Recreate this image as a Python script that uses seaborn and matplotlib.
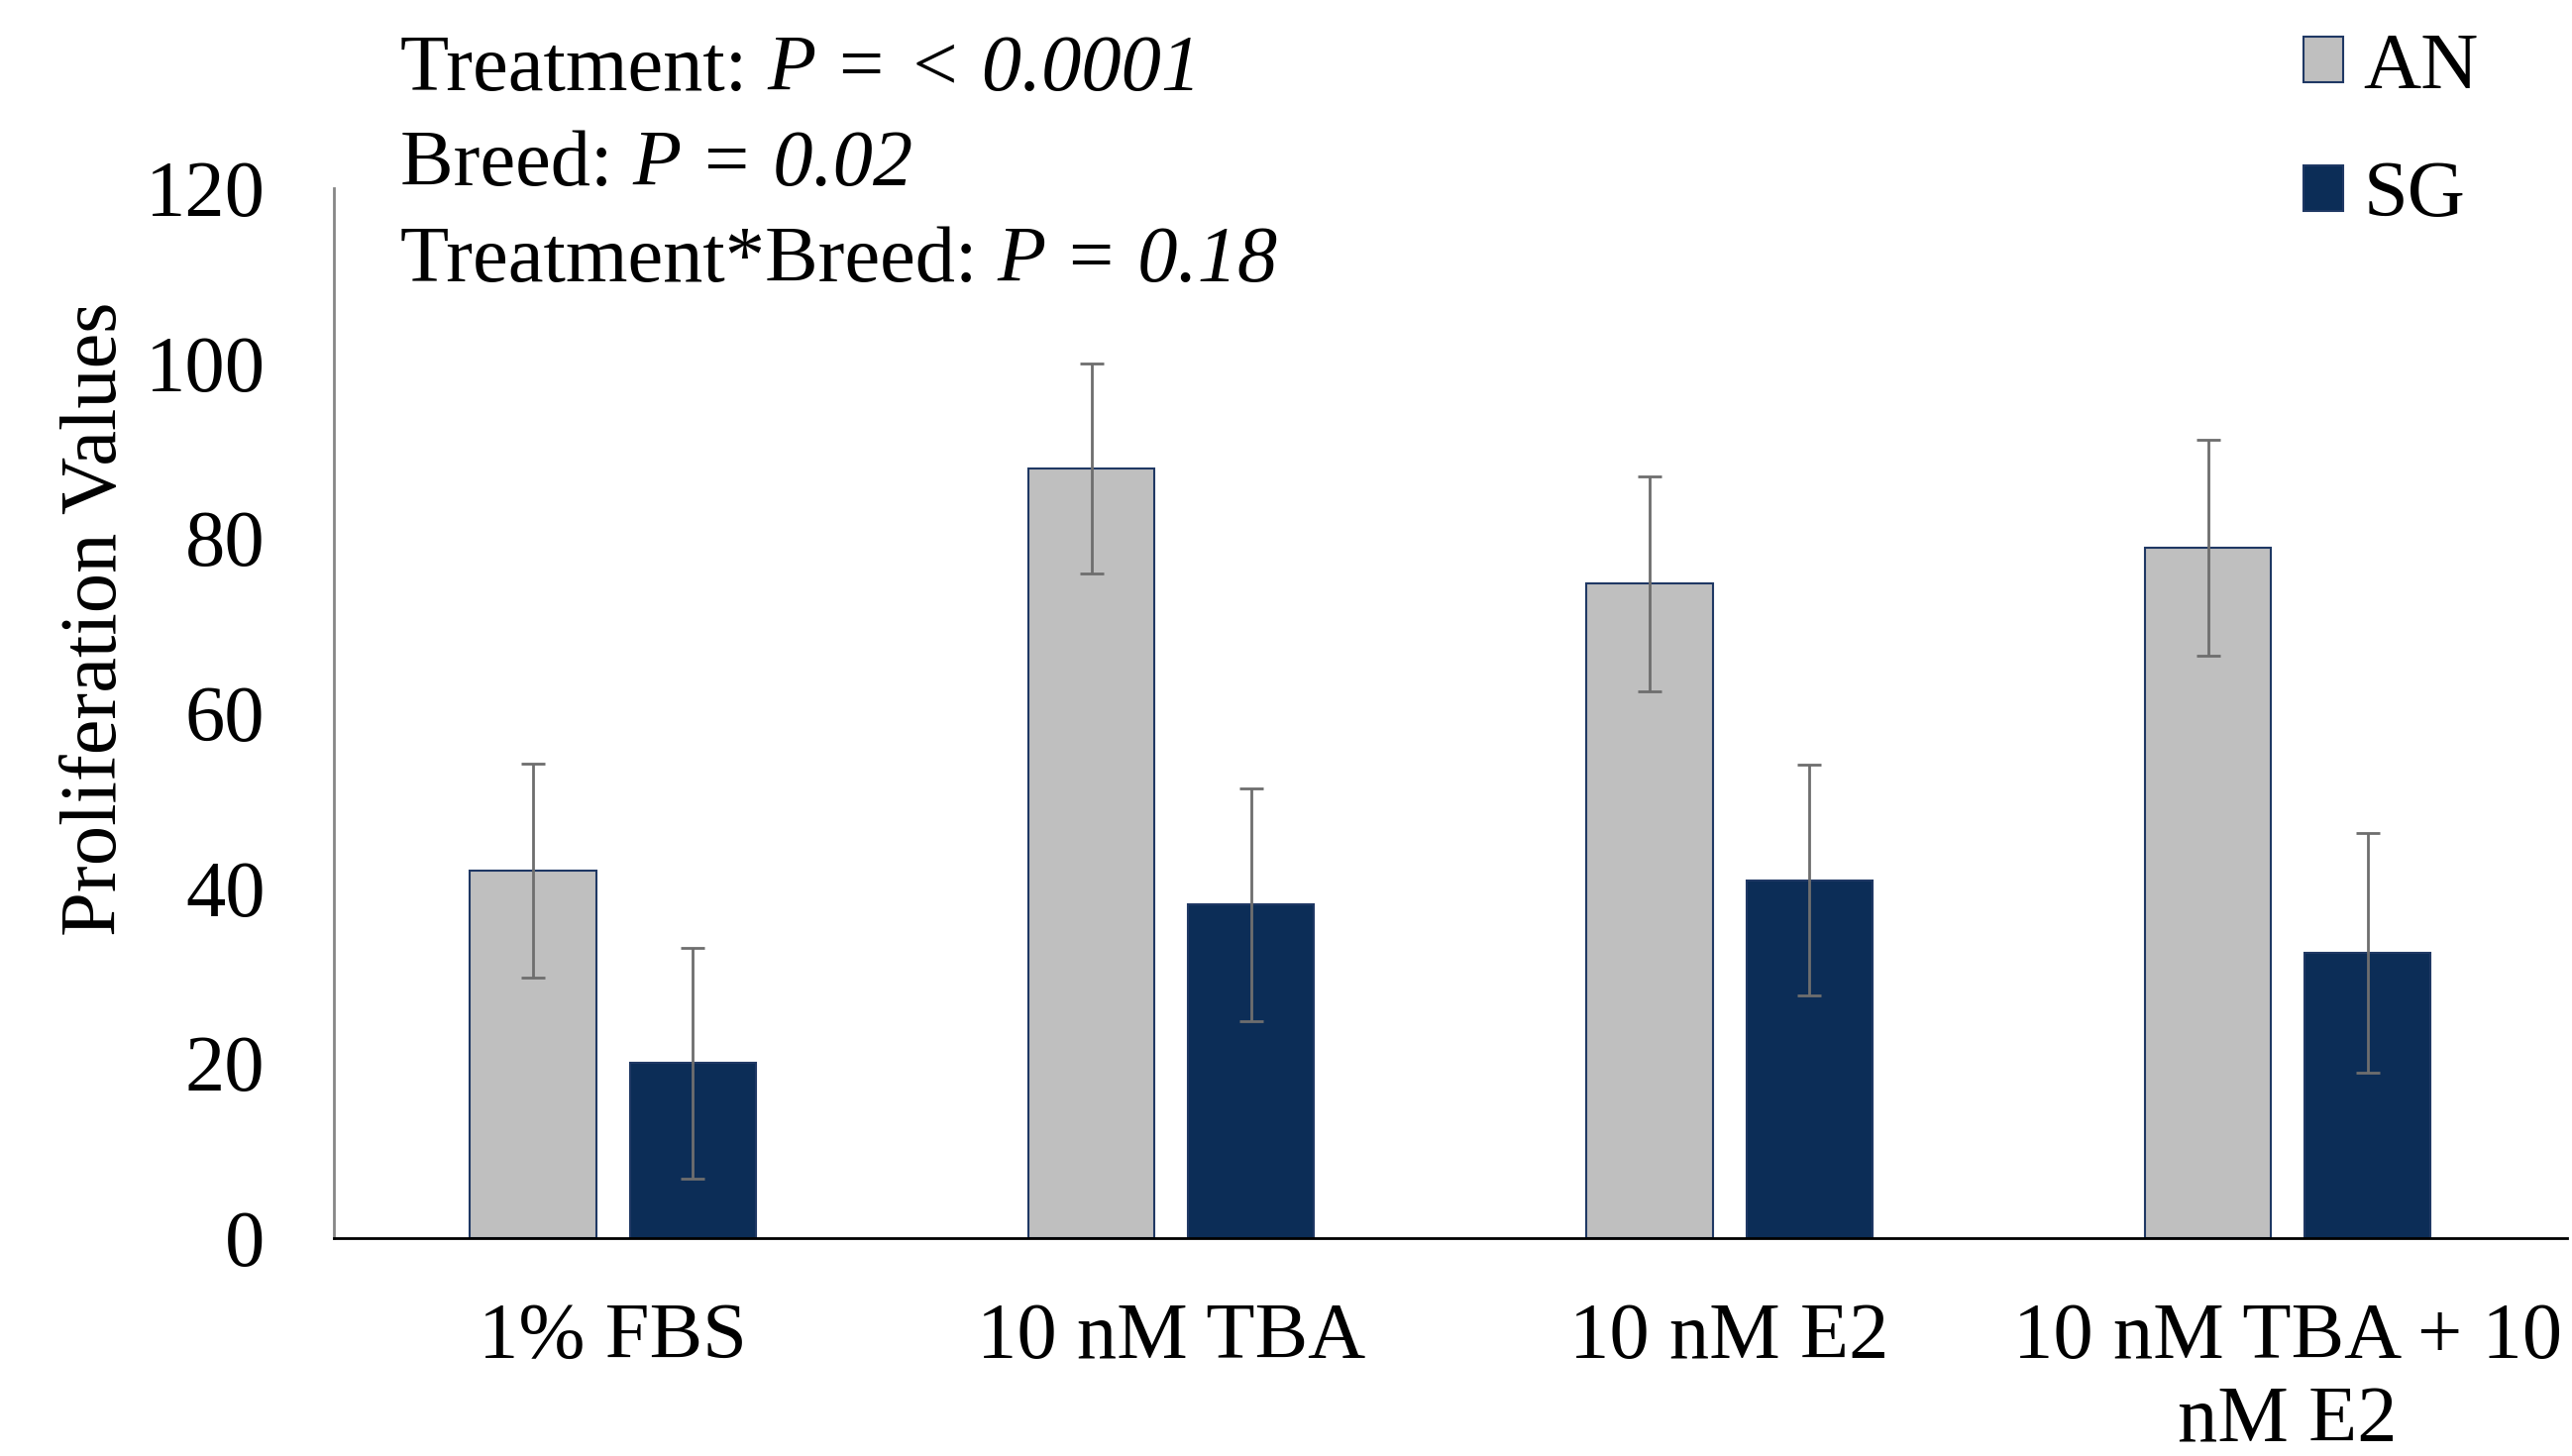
import numpy as np
import pandas as pd
import seaborn as sns
import matplotlib.pyplot as plt
from matplotlib.patches import Patch

treatments = ["1% FBS", "10 nM TBA", "10 nM E2", "10 nM TBA + 10\nnM E2"]
breeds = ["AN", "SG"]
an_values = [42.0, 88.0, 74.8, 78.9]
sg_values = [20.0, 38.1, 40.9, 32.6]
an_err = [12.2, 12.0, 12.3, 12.3]
sg_err = [13.2, 13.3, 13.2, 13.7]
yticks = [0, 20, 40, 60, 80, 100, 120]
stats = [("Treatment: ", "P = < 0.0001"),
         ("Breed: ", "P = 0.02"),
         ("Treatment*Breed: ", "P = 0.18")]

df = pd.DataFrame({
    "treatment": treatments * 2,
    "breed": ["AN"] * 4 + ["SG"] * 4,
    "value": an_values + sg_values,
})
errs = an_err + sg_err

sns.set_style("white")
plt.rcParams["font.family"] = ["Liberation Serif", "DejaVu Serif"]
plt.rcParams["text.color"] = "black"
plt.rcParams["xtick.color"] = "black"
plt.rcParams["ytick.color"] = "black"
plt.rcParams["axes.labelcolor"] = "black"

fs = 58
colors = {"AN": "#BFBFBF", "SG": "#0C2D57"}

fig = plt.figure(figsize=(25.96, 14.70), dpi=100)
ax = fig.add_axes([0.1298, 0.1497, 0.8682, 0.721])

sns.barplot(data=df, x="treatment", y="value", hue="breed", hue_order=breeds,
            palette=colors, saturation=1, width=0.572, gap=0.21, ax=ax,
            legend=False, edgecolor="#1F3864", linewidth=1.5, errorbar=None)

# error bars at the bar centres
bars = [p for p in ax.patches if p.get_height() > 0]
bars = sorted(bars, key=lambda p: (p.get_facecolor()[0] < 0.5, p.get_x()))
for p, e in zip(bars, errs):
    xc = p.get_x() + p.get_width() / 2
    ax.errorbar(xc, p.get_height(), yerr=e, color="#6E6E6E", lw=2,
                capsize=8.6, capthick=2)

ax.set_xlim(-0.5, 3.5)
ax.set_ylim(0, 120)
ax.set_yticks(yticks)
ax.tick_params(axis="y", labelsize=fs, length=0, pad=50)
ax.tick_params(axis="x", labelsize=fs, length=0, pad=47)
for lab in ax.get_xticklabels():
    lab.set_linespacing(1.2)
ax.set_xlabel("")
ax.set_ylabel("Proliferation Values", fontsize=fs)
ax.yaxis.set_label_coords(-0.09, 0.59)

for s in ["top", "right"]:
    ax.spines[s].set_visible(False)
ax.spines["left"].set_color("#868686")
ax.spines["left"].set_linewidth(2)
ax.spines["bottom"].set_color("black")
ax.spines["bottom"].set_linewidth(2)

# stats text: plain label followed by italic P part
fig.canvas.draw()
renderer = fig.canvas.get_renderer()
for (plain, ital), y in zip(stats, [0.938, 0.873, 0.807]):
    t = fig.text(0.1556, y, plain, fontsize=fs)
    bb = t.get_window_extent(renderer)
    x2 = fig.transFigure.inverted().transform((bb.x1, bb.y0))[0]
    fig.text(x2, y, ital, fontsize=fs, style="italic")

handles = [Patch(facecolor=colors[b], edgecolor="#1F3864", linewidth=1.5) for b in breeds]
fig.legend(handles, breeds, loc="upper left", bbox_to_anchor=(0.880, 1.005),
           frameon=False, fontsize=fs, handlelength=0.5, handleheight=0.5,
           handletextpad=0.25, labelspacing=0.7, borderpad=0)

fig.savefig("out.png", dpi=100)
